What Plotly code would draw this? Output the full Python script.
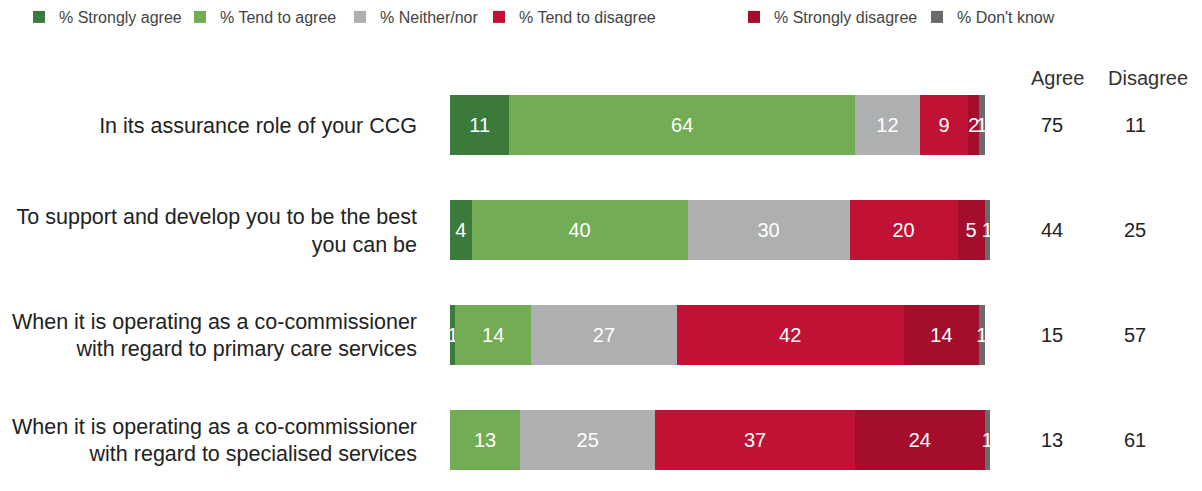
import plotly.graph_objects as go

# data
statements = [
    "In its assurance role of your CCG",
    "To support and develop you to be the best<br>you can be",
    "When it is operating as a co-commissioner<br>with regard to primary care services",
    "When it is operating as a co-commissioner<br>with regard to specialised services",
]
series_names = ["% Strongly agree", "% Tend to agree", "% Neither/nor",
                "% Tend to disagree", "% Strongly disagree", "% Don't know"]
strongly_agree = [11, 4, 1, 0]
tend_agree = [64, 40, 14, 13]
neither = [12, 30, 27, 25]
tend_disagree = [9, 20, 42, 37]
strongly_disagree = [2, 5, 14, 24]
dont_know = [1, 1, 1, 1]
agree_totals = [75, 44, 15, 13]
disagree_totals = [11, 25, 57, 61]

colours = ["#3c7a3c", "#72ad55", "#aeafb1", "#c01234", "#a50d2d", "#6a6a6a"]
all_series = [strongly_agree, tend_agree, neither, tend_disagree, strongly_disagree, dont_know]

# where each legend item's text starts in the reference (px)
legend_text_x = [55, 216, 376, 515, 770, 953]

W, H = 1202, 491
OFF = 8  # page body margin shifts the figure by 8px

fig = go.Figure()
for i, (name, vals, col) in enumerate(zip(series_names, all_series, colours)):
    fig.add_trace(go.Bar(
        y=statements, x=vals, name=name, orientation="h",
        marker=dict(color=col, line=dict(width=0)),
        text=[str(v) if v > 0 else "" for v in vals],
        textposition="inside", insidetextanchor="middle",
        textfont=dict(color="white", size=20),
        cliponaxis=False, legend=f"legend{i + 2}",
    ))

# Agree / Disagree summary columns
hy = (H - (78 - OFF)) / H
fig.add_annotation(x=(1057 - OFF) / W, y=hy, xref="paper", yref="paper", text="Agree",
                   showarrow=False, xanchor="center", yanchor="middle",
                   font=dict(size=20, color="#333"))
fig.add_annotation(x=(1148 - OFF) / W, y=hy, xref="paper", yref="paper", text="Disagree",
                   showarrow=False, xanchor="center", yanchor="middle",
                   font=dict(size=20, color="#333"))
for s, a, d in zip(statements, agree_totals, disagree_totals):
    fig.add_annotation(x=(1052 - OFF) / W, y=s, xref="paper", yref="y", text=str(a),
                       showarrow=False, xanchor="center", yanchor="middle",
                       font=dict(size=20, color="#222"))
    fig.add_annotation(x=(1135 - OFF) / W, y=s, xref="paper", yref="y", text=str(d),
                       showarrow=False, xanchor="center", yanchor="middle",
                       font=dict(size=20, color="#222"))

legend_style = dict(orientation="h", yanchor="middle", xanchor="left",
                    font=dict(size=16, color="#444"), bgcolor="rgba(0,0,0,0)")
legends = {}
for i, tx in enumerate(legend_text_x):
    legends[f"legend{i + 2}"] = dict(legend_style, x=(tx - OFF - 36) / W,
                                     y=(H - (17 - OFF)) / H)

fig.update_layout(
    width=W, height=H,
    barmode="stack", bargap=0.43,
    plot_bgcolor="white", paper_bgcolor="white",
    margin=dict(l=0, r=0, t=0, b=0, autoexpand=False),
    font=dict(family="Liberation Sans, Arial, sans-serif", color="#222"),
    uniformtext=dict(minsize=20, mode="show"),
    xaxis=dict(domain=[(450 - OFF) / W, (990 - OFF) / W], range=[0, 100],
               visible=False, fixedrange=True),
    yaxis=dict(domain=[0, 1 - 64 / H], range=[3.562, -0.505], autorange=False,
               showline=False, showgrid=False, ticks="",
               ticklabelstandoff=32, tickfont=dict(size=21.5, color="#222")),
    **legends,
)

fig.write_html("out.html")
